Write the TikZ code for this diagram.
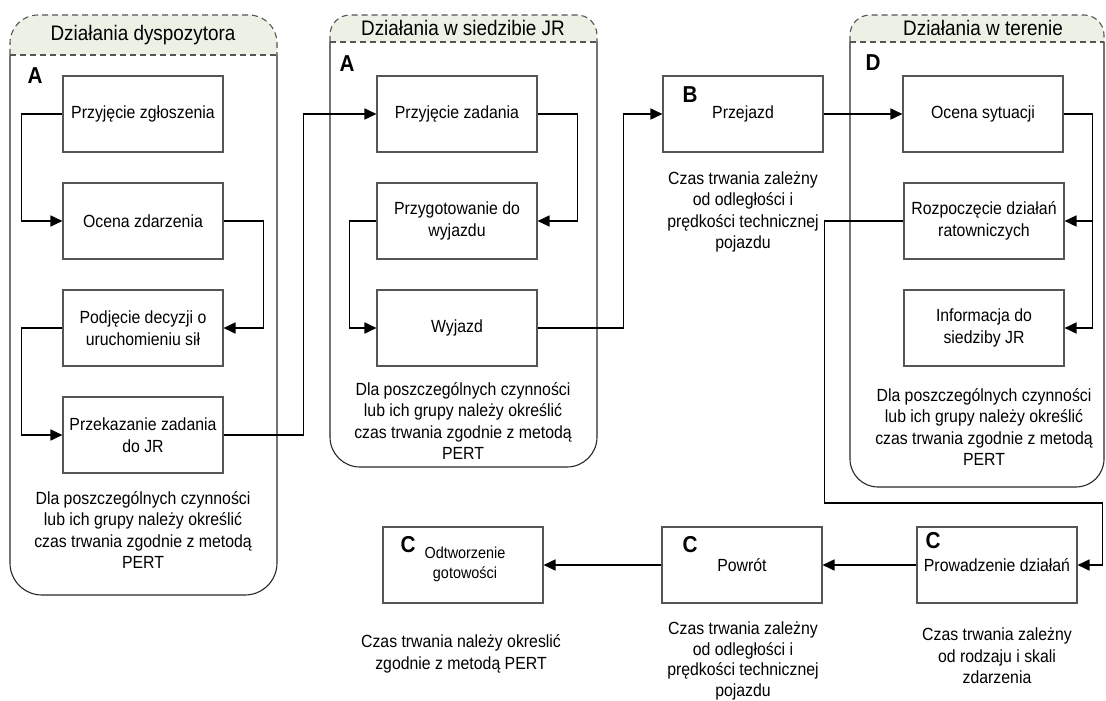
\documentclass[tikz,border=0pt]{standalone}
\usepackage{fontspec}
\setmainfont{Liberation Sans}[FakeStretch=0.9]
\usetikzlibrary{arrows.meta}
\definecolor{hdrfill}{RGB}{236,241,230}
\definecolor{boxline}{RGB}{85,85,85}
\definecolor{grpline}{RGB}{40,40,40}
\newcommand{\mytxt}{\fontsize{17.6}{21.5}\selectfont}
\newcommand{\mysmall}{\fontsize{16}{20}\selectfont}
\newcommand{\myhdr}{\fontsize{21}{22}\selectfont}
\newcommand{\mylbl}{\fontsize{23}{23}\selectfont\bfseries}
\begin{document}
\begin{tikzpicture}[x=1pt,y=-1pt,
  box/.style={draw=boxline, line width=1.1pt, minimum width=160pt, minimum height=76pt, align=center, font=\mytxt, inner sep=1pt},
  note/.style={align=center, font=\mytxt, inner sep=0pt},
  hdrtxt/.style={font=\myhdr, inner sep=0pt},
  lbl/.style={font=\mylbl, inner sep=0pt},
  grp/.style={draw=grpline, line width=1.1pt, fill=white},
  hdrline/.style={draw=boxline, line width=1.1pt, dash pattern=on 6pt off 4pt},
  conn/.style={line width=1.7pt, -{Triangle[length=12pt,width=11pt]}}]
\useasboundingbox (0,0) rectangle (1106,701);

% ---------- group 1
\fill[hdrfill, rounded corners=28pt] (10,100) -- (10,15) -- (277,15) -- (277,100) -- cycle;
\draw[grp, rounded corners=32pt] (10,55) -- (10,595) -- (277,595) -- (277,55);
\draw[hdrline, rounded corners=28pt] (10,55) -- (10,15) -- (277,15) -- (277,55);
\draw[hdrline] (10,55) -- (277,55);
\node[hdrtxt] (h1) at (143,35) {Działania dyspozytora};

% ---------- group 2
\fill[hdrfill, rounded corners=20pt] (330,100) -- (330,15) -- (597,15) -- (597,100) -- cycle;
\draw[grp, rounded corners=30pt] (330,42) -- (330,467) -- (597,467) -- (597,42);
\draw[hdrline, rounded corners=20pt] (330,42) -- (330,15) -- (597,15) -- (597,42);
\draw[hdrline] (330,42) -- (597,42);
\node[hdrtxt] (h2) at (463,28) {Działania w siedzibie JR};

% ---------- group 3
\fill[hdrfill, rounded corners=20pt] (850,100) -- (850,15) -- (1104,15) -- (1104,100) -- cycle;
\draw[grp, rounded corners=28pt] (850,42) -- (850,487) -- (1104,487) -- (1104,42);
\draw[hdrline, rounded corners=20pt] (850,42) -- (850,15) -- (1104,15) -- (1104,42);
\draw[hdrline] (850,42) -- (1104,42);
\node[hdrtxt] (h3) at (983,28) {Działania w terenie};

% ---------- letters
\node[lbl] (la1) at (35,76) {A};
\node[lbl] (la2) at (347,64) {A};
\node[lbl] (ld) at (873,63) {D};

% ---------- group 1 boxes
\node[box] (pz) at (143,114) {Przyjęcie zgłoszenia};
\node[box] (oz) at (143,221) {Ocena zdarzenia};
\node[box] (pd) at (143,328) {Podjęcie decyzji o\\uruchomieniu sił};
\node[box] (pk) at (143,435) {Przekazanie zadania\\do JR};
\node[note] (n1) at (143,530) {Dla poszczególnych czynności\\lub ich grupy należy określić\\czas trwania zgodnie z metodą\\PERT};

% ---------- group 2 boxes
\node[box] (pza) at (457,114) {Przyjęcie zadania};
\node[box] (pw) at (457,221) {Przygotowanie do\\wyjazdu};
\node[box] (wy) at (457,328) {Wyjazd};
\node[note] (n2) at (463,421) {Dla poszczególnych czynności\\lub ich grupy należy określić\\czas trwania zgodnie z metodą\\PERT};

% ---------- Przejazd
\node[box] (prz) at (743,114) {Przejazd};
\node[lbl] (lb) at (690,95) {B};
\node[note] (n4) at (743,212) {Czas trwania zależny\\od odległości i\\prędkości technicznej\\pojazdu};

% ---------- group 3 boxes
\node[box] (os) at (983,114) {Ocena sytuacji};
\node[box] (rd) at (984,221) {Rozpoczęcie działań\\ratowniczych};
\node[box] (inf) at (984,328) {Informacja do\\siedziby JR};
\node[note] (n3) at (984,427) {Dla poszczególnych czynności\\lub ich grupy należy określić\\czas trwania zgodnie z metodą\\PERT};

% ---------- bottom row
\node[box] (pr) at (997,565) {Prowadzenie działań};
\node[lbl] (lc3) at (933,541) {C};
\node[note] (n7) at (997,656) {Czas trwania zależny\\od rodzaju i skali\\zdarzenia};

\node[box] (pow) at (742,565) {Powrót};
\node[lbl] (lc2) at (690,545) {C};
\node[note, font=\fontsize{17.6}{20.5}\selectfont] (n6) at (743,661) {Czas trwania zależny\\od odległości i\\prędkości technicznej\\pojazdu};

\node[box, font=\mysmall] (odt) at (463,565) {\phantom{x}};
\node[lbl] (lc1) at (408,545) {C};
\node[align=center, font=\mysmall, inner sep=0pt] (odtt) at (465,564) {Odtworzenie\\gotowości};
\node[note] (n5) at (461,654) {Czas trwania należy okreslić\\zgodnie z metodą PERT};

% ---------- connectors
\draw[conn] (pz.west) -- ++(-41,0) |- (oz.west);
\draw[conn] (oz.east) -- ++(40,0) |- (pd.east);
\draw[conn] (pd.west) -- ++(-41,0) |- (pk.west);
\draw[conn] (pk.east) -- ++(80,0) |- (pza.west);
\draw[conn] (pza.east) -- ++(40,0) |- (pw.east);
\draw[conn] (pw.west) -- ++(-27,0) |- (wy.west);
\draw[conn] (wy.east) -- ++(86,0) |- (prz.west);
\draw[conn] (prz.east) -- (os.west);
\draw[conn] (os.east) -- ++(29,0) |- (rd.east);
\draw[conn] (os.east) -- ++(29,0) |- (inf.east);
\draw[conn] (rd.west) -- ++(-79,0) -- ++(0,282) -- ++(278,0) |- (pr.east);
\draw[conn] (pr.west) -- (pow.east);
\draw[conn] (pow.west) -- (odt.east);
\end{tikzpicture}
\end{document}
